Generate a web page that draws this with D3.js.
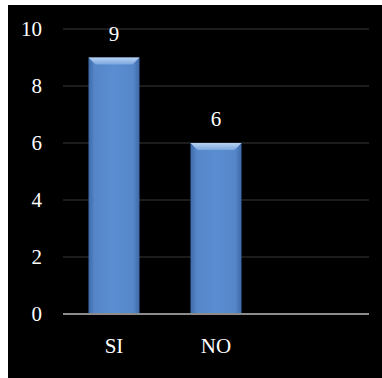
<!DOCTYPE html>
<html>
<head>
<meta charset="utf-8">
<script src="https://cdn.jsdelivr.net/npm/d3@7"></script>
<style>
body { margin: 0; background: #fff; }
text { font-family: "Liberation Serif", "DejaVu Serif", serif; fill: #fff; }
</style>
</head>
<body>
<div class="container"></div>
<script>
const WIDTH = 382;
const HEIGHT = 378;

var categories = ["SI", "NO", ""];
var values = [9, 6, null];
var yTicks = [0, 2, 4, 6, 8, 10];

var translate = function(x, y){
	return "translate(" + x + "," + y + ")";
};

var svg = d3.select('.container').append('svg')
	.attr('width', WIDTH)
	.attr('height', HEIGHT);

// black panel with white edge on top/left
svg.append('rect')
	.attr('x', 8).attr('y', 5)
	.attr('width', WIDTH - 8).attr('height', HEIGHT - 5)
	.attr('fill', '#000');

var xScale = d3.scaleBand()
	.domain(categories)
	.range([63, 369])
	.padding(0.5)
	.paddingOuter(0.25);

var yScale = d3.scaleLinear()
	.domain([0, 10])
	.range([314, 29]);

var defs = svg.append('defs');
var grad = defs.append('linearGradient').attr('id', 'barGrad')
	.attr('x1', 0).attr('x2', 1).attr('y1', 0).attr('y2', 0);
grad.append('stop').attr('offset', '0%').attr('stop-color', '#3d6aa8');
grad.append('stop').attr('offset', '12%').attr('stop-color', '#5586c8');
grad.append('stop').attr('offset', '50%').attr('stop-color', '#5a8ed2');
grad.append('stop').attr('offset', '88%').attr('stop-color', '#5586c8');
grad.append('stop').attr('offset', '100%').attr('stop-color', '#3d6aa8');

var bevel = defs.append('linearGradient').attr('id', 'bevelGrad')
	.attr('x1', 0).attr('x2', 0).attr('y1', 0).attr('y2', 1);
bevel.append('stop').attr('offset', '0%').attr('stop-color', '#b9d3f3');
bevel.append('stop').attr('offset', '100%').attr('stop-color', '#7aa6de');

// gridlines
svg.append('g')
	.selectAll('line')
	.data(yTicks.filter(function(d){ return d > 0; }))
	.join('line')
	.attr('x1', 63).attr('x2', 369)
	.attr('y1', function(d){ return yScale(d); })
	.attr('y2', function(d){ return yScale(d); })
	.attr('stroke', '#262626')
	.attr('stroke-width', 1.5);

// y axis labels
var yAxis = d3.axisLeft(yScale).tickValues(yTicks).tickSize(0).tickPadding(0);
svg.append('g')
	.attr('transform', translate(42, 0))
	.call(yAxis)
	.call(function(g){ g.select('.domain').remove(); })
	.selectAll('text')
	.attr('font-family', '"Liberation Serif", serif')
	.attr('font-size', 21)
	.attr('fill', '#fff');

var data = categories.map(function(c, i){ return {cat: c, val: values[i]}; })
	.filter(function(d){ return d.val != null; });

var bars = svg.append('g');
var bw = xScale.bandwidth();

bars.selectAll('rect')
	.data(data)
	.join('rect')
	.attr('x', function(d){ return xScale(d.cat); })
	.attr('y', function(d){ return yScale(d.val); })
	.attr('width', bw)
	.attr('height', function(d){ return yScale(0) - yScale(d.val); })
	.attr('fill', 'url(#barGrad)');

// top bevel
bars.selectAll('path')
	.data(data)
	.join('path')
	.attr('d', function(d){
		var x0 = xScale(d.cat), y0 = yScale(d.val), b = 7;
		return 'M' + x0 + ',' + y0 + 'L' + (x0 + bw) + ',' + y0 +
			'L' + (x0 + bw - b) + ',' + (y0 + b) + 'L' + (x0 + b) + ',' + (y0 + b) + 'Z';
	})
	.attr('fill', 'url(#bevelGrad)');

// value labels
svg.append('g')
	.selectAll('text')
	.data(data)
	.join('text')
	.attr('x', function(d){ return xScale(d.cat) + bw / 2; })
	.attr('y', function(d){ return yScale(d.val) - 17; })
	.attr('text-anchor', 'middle')
	.attr('font-size', 21)
	.text(function(d){ return d.val; });

// baseline
svg.append('line')
	.attr('x1', 63).attr('x2', 369)
	.attr('y1', yScale(0)).attr('y2', yScale(0))
	.attr('stroke', '#8c8c8c')
	.attr('stroke-width', 2);

// x axis labels
var xAxis = d3.axisBottom(xScale).tickSize(0).tickPadding(0);
svg.append('g')
	.attr('transform', translate(0, 338))
	.call(xAxis)
	.call(function(g){ g.select('.domain').remove(); })
	.selectAll('text')
	.attr('font-family', '"Liberation Serif", serif')
	.attr('font-size', 21)
	.attr('fill', '#fff');
</script>
</body>
</html>
